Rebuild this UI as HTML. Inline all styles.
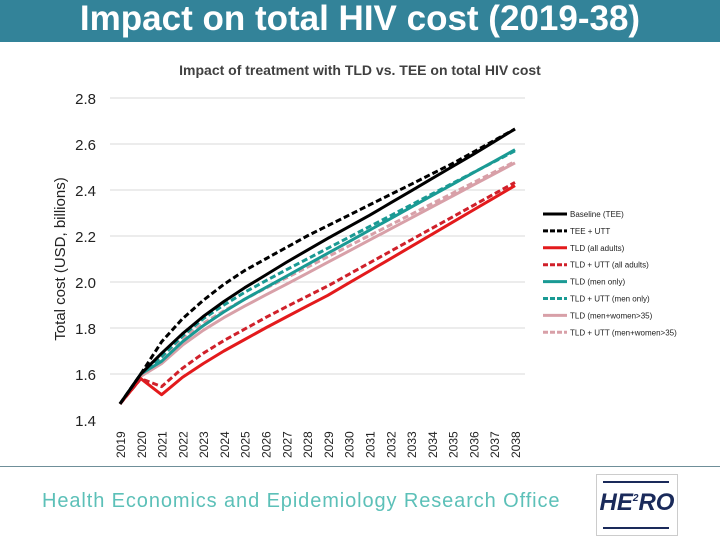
<!DOCTYPE html>
<html><head><meta charset="utf-8"><style>
body{margin:0;width:720px;height:540px;overflow:hidden;background:#fff;font-family:"Liberation Sans",sans-serif;position:relative}
#bar{position:absolute;left:0;top:0;width:720px;height:42px;background:#338399;color:#fff;font-size:35px;font-weight:bold;text-align:center;line-height:38px;font-family:"Liberation Sans",sans-serif}
#footline{position:absolute;left:0;top:466px;width:720px;height:1px;background:#6f8f99}
#foot{position:absolute;left:42px;top:490px;font-size:20px;color:#5cc0b8;letter-spacing:0.9px}
#logo{position:absolute;left:596px;top:474px;width:80px;height:60px;border:1px solid #ccc;background:#fff}
</style></head><body>
<div id="bar">Impact on total HIV cost (2019-38)</div>
<svg id="chart" width="720" height="470" style="position:absolute;left:0;top:0"></svg>
<div id="footline"></div>
<div id="foot">Health Economics and Epidemiology Research Office</div>
<div id="logo">
<div style="position:absolute;left:6px;top:6px;width:66px;height:2px;background:#1a2a5a"></div>
<div style="position:absolute;left:0;width:80px;top:14px;text-align:center;font-size:24px;font-weight:bold;font-style:italic;color:#1a2a5a">HE<sup style="font-size:10px">2</sup>RO</div>
<div style="position:absolute;left:6px;top:52px;width:66px;height:2px;background:#1a2a5a"></div>
</div>
<script>
const years=[2019,2020,2021,2022,2023,2024,2025,2026,2027,2028,2029,2030,2031,2032,2033,2034,2035,2036,2037,2038];
const yTicks=[1.4,1.6,1.8,2.0,2.2,2.4,2.6,2.8];
const seriesNames=["Baseline (TEE)","TEE + UTT","TLD (all adults)","TLD + UTT (all adults)","TLD (men only)","TLD + UTT (men only)","TLD (men+women>35)","TLD + UTT (men+women>35)"];
const baseline=[1.47,1.60,1.69,1.775,1.85,1.915,1.975,2.03,2.085,2.138,2.19,2.24,2.29,2.343,2.396,2.449,2.502,2.555,2.61,2.665];
const teeUtt=[1.47,1.60,1.74,1.84,1.92,1.99,2.05,2.10,2.15,2.20,2.245,2.29,2.335,2.38,2.425,2.47,2.515,2.565,2.615,2.665];
const tldAll=[1.47,1.58,1.51,1.585,1.645,1.70,1.75,1.80,1.848,1.895,1.942,1.995,2.048,2.101,2.154,2.207,2.26,2.313,2.366,2.419];
const tldUttAll=[1.47,1.58,1.545,1.625,1.69,1.745,1.795,1.845,1.892,1.938,1.983,2.033,2.083,2.133,2.183,2.233,2.283,2.333,2.383,2.433];
const tldMen=[1.47,1.60,1.655,1.74,1.81,1.87,1.925,1.975,2.025,2.075,2.125,2.175,2.225,2.275,2.325,2.375,2.425,2.475,2.525,2.575];
const tldUttMen=[1.47,1.60,1.675,1.765,1.84,1.90,1.955,2.005,2.053,2.10,2.147,2.194,2.241,2.288,2.335,2.382,2.429,2.476,2.523,2.57];
const tldMW=[1.47,1.59,1.645,1.725,1.79,1.845,1.895,1.943,1.99,2.038,2.086,2.134,2.182,2.23,2.278,2.326,2.374,2.422,2.47,2.518];
const tldUttMW=[1.47,1.59,1.66,1.75,1.82,1.875,1.925,1.972,2.018,2.064,2.11,2.156,2.202,2.248,2.294,2.34,2.386,2.432,2.478,2.524];

const svg=document.getElementById('chart');const NS='http://www.w3.org/2000/svg';
function mk(t,a,txt){const e=document.createElementNS(NS,t);for(const k in a)e.setAttribute(k,a[k]);if(txt!==undefined)e.textContent=txt;svg.appendChild(e);return e;}
const x0=120,dx=(515-120)/19;
function X(i){return x0+i*dx;}
function Y(v){return 420-(v-1.4)/1.4*322;}
let t=mk('text',{x:360,y:75,'text-anchor':'middle','font-size':14,fill:'#404040','font-weight':'bold'},'Impact of treatment with TLD vs. TEE on total HIV cost');

yTicks.filter(v=>v>1.5).forEach(v=>{const g=mk('line',{x1:110,x2:525,y1:Y(v),y2:Y(v),stroke:'#d9d9d9','stroke-width':1});});
yTicks.forEach(v=>{const e=mk('text',{x:96,y:Y(v)+6,'text-anchor':'end','font-size':15,fill:'#222'},v.toFixed(1));});
years.forEach((yr,i)=>{const e=mk('text',{x:X(i)+5,y:458,'font-size':12,fill:'#222',transform:`rotate(-90 ${X(i)+5} 458)`},yr);});
t=mk('text',{x:65,y:259,'text-anchor':'middle','font-size':15,fill:'#222',transform:'rotate(-90 65 259)'},'Total cost (USD, billions)');

const data=[baseline,teeUtt,tldAll,tldUttAll,tldMen,tldUttMen,tldMW,tldUttMW];
const cols=['#000','#000','#e31a1c','#d0202a','#1a9a94','#1a9a94','#d8a0a8','#d8a0a8'];
const dash=[null,'6,3',null,'6,3',null,'6,3',null,'6,3'];
const order=[6,7,4,5,2,3,0,1];
order.forEach(k=>{const d=data[k].map((v,i)=>(i?'L':'M')+X(i).toFixed(1)+','+Y(v).toFixed(1)).join('');
const a={d:d,fill:'none',stroke:cols[k],'stroke-width':3,'stroke-linejoin':'round'};if(dash[k])a['stroke-dasharray']=dash[k];
const p=mk('path',a);});
seriesNames.forEach((n,k)=>{const y=214+k*16.9;const a={x1:543,x2:567,y1:y,y2:y,stroke:cols[k],'stroke-width':3};if(dash[k])a['stroke-dasharray']='5,2';
const l=mk('line',a);
const e=mk('text',{x:570,y:y+3,'font-size':8,fill:'#222'},n);});
</script>
</body></html>
